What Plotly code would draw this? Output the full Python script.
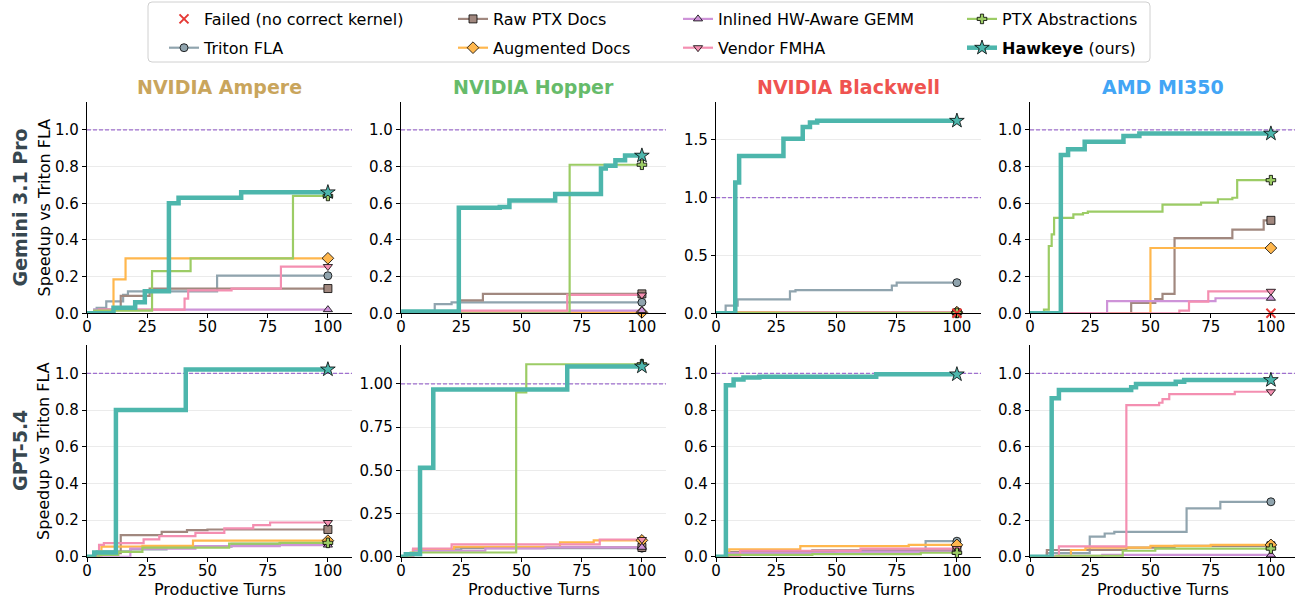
import plotly.graph_objects as go

# ---------------- data: (productive turn, speedup vs Triton FLA) step breakpoints ----------------
# Row 1: Gemini 3.1 Pro
gem_amp_triton = [(0, 0), (3, 0.02), (4, 0.03), (8, 0.065), (15, 0.10), (17, 0.12), (54, 0.205), (100, 0.205)]
gem_amp_raw = [(0, 0), (5, 0.02), (14, 0.095), (26, 0.135), (100, 0.135)]
gem_amp_aug = [(0, 0), (11, 0.185), (16, 0.30), (100, 0.30)]
gem_amp_inl = [(0, 0), (3, 0.02), (100, 0.02)]
gem_amp_ven = [(0, 0), (5, 0.02), (40.5, 0.08), (42, 0.125), (60, 0.135), (80.5, 0.255), (100, 0.255)]
gem_amp_ptx = [(0, 0), (3, 0.015), (27, 0.23), (43, 0.30), (85.5, 0.64), (100, 0.64)]
gem_amp_hawk = [(0, 0), (11, 0.03), (20, 0.06), (24, 0.12), (34, 0.60), (38, 0.63), (64, 0.66), (100, 0.66)]
gem_amp_failed = []

gem_hop_triton = [(0, 0), (1.5, 0.01), (14, 0.05), (21, 0.06), (100, 0.06)]
gem_hop_raw = [(0, 0), (1, 0.005), (24, 0.07), (34, 0.106), (100, 0.106)]
gem_hop_aug = [(0, 0), (2, 0.005), (100, 0.005)]
gem_hop_inl = [(0, 0), (70, 0.015), (100, 0.015)]
gem_hop_ven = [(0, 0), (24, 0.015), (69, 0.10), (100, 0.10)]
gem_hop_ptx = [(0, 0), (70, 0.81), (100, 0.81)]
gem_hop_hawk = [(0, 0), (1, 0.01), (24, 0.575), (41, 0.58), (45, 0.615), (64, 0.65), (83, 0.79),
                (85, 0.805), (89, 0.835), (93, 0.86), (100, 0.86)]
gem_hop_failed = []

gem_bw_triton = [(0, 0), (4, 0.066), (9, 0.12), (30.7, 0.19), (33, 0.20), (73, 0.24), (75, 0.265), (100, 0.265)]
gem_bw_raw = [(0, 0), (2, 0.003), (100, 0.003)]
gem_bw_aug = [(0, 0), (1, 0.01), (100, 0.01)]
gem_bw_inl = None
gem_bw_ven = [(0, 0), (8, 0.005), (27, 0.01), (100, 0.01)]
gem_bw_ptx = [(0, 0), (5, 0.003), (100, 0.003)]
gem_bw_hawk = [(0, 0), (8, 1.13), (9.6, 1.36), (28, 1.51), (36, 1.61), (39, 1.65), (42, 1.665), (100, 1.665)]
gem_bw_failed = ["Inlined HW-Aware GEMM"]

gem_mi_triton = None
gem_mi_raw = [(0, 0), (42, 0.057), (52, 0.077), (55, 0.106), (60, 0.41), (84, 0.456), (97, 0.507), (100, 0.507)]
gem_mi_aug = [(0, 0), (50, 0.356), (100, 0.356)]
gem_mi_inl = [(0, 0), (32, 0.066), (77, 0.082), (100, 0.082)]
gem_mi_ven = [(0, 0), (62, 0.015), (66, 0.064), (74, 0.12), (100, 0.12)]
gem_mi_ptx = [(0, 0), (5.8, 0.02), (7.8, 0.367), (9, 0.43), (10, 0.52), (18, 0.54), (22, 0.547), (24, 0.555),
              (55, 0.593), (71, 0.604), (78, 0.622), (84, 0.63), (86, 0.726), (100, 0.726)]
gem_mi_hawk = [(0, 0), (12.8, 0.863), (15.8, 0.894), (22.7, 0.936), (38.8, 0.967), (45.4, 0.98), (100, 0.98)]
gem_mi_failed = ["Triton FLA"]

# Row 2: GPT-5.4
gpt_amp_triton = [(0, 0), (4, 0.03), (18, 0.04), (33, 0.055), (60, 0.07), (80, 0.075), (100, 0.075)]
gpt_amp_raw = [(0, 0), (4, 0.02), (14, 0.118), (31, 0.136), (41.5, 0.145), (50, 0.149), (100, 0.149)]
gpt_amp_aug = [(0, 0), (6, 0.055), (23, 0.06), (44, 0.088), (100, 0.088)]
gpt_amp_inl = [(0, 0), (18, 0.045), (45, 0.058), (80, 0.064), (100, 0.064)]
gpt_amp_ven = [(0, 0), (5, 0.065), (7, 0.075), (23.5, 0.095), (30, 0.113), (45, 0.131), (57, 0.155),
               (69, 0.173), (76, 0.187), (100, 0.187)]
gpt_amp_ptx = [(0, 0), (5, 0.01), (13, 0.027), (23, 0.05), (59, 0.072), (80, 0.076), (100, 0.076)]
gpt_amp_hawk = [(0, 0), (3, 0.024), (12, 0.80), (41, 1.022), (100, 1.022)]
gpt_amp_failed = []

gpt_hop_triton = [(0, 0), (5, 0.04), (25, 0.05), (100, 0.05)]
gpt_hop_raw = [(0, 0), (5, 0.04), (22, 0.054), (100, 0.054)]
gpt_hop_aug = [(0, 0), (5, 0.043), (22, 0.058), (66, 0.083), (80, 0.095), (100, 0.095)]
gpt_hop_inl = [(0, 0), (5, 0.035), (35, 0.048), (60, 0.055), (100, 0.055)]
gpt_hop_ven = [(0, 0), (5, 0.048), (21, 0.072), (82.5, 0.10), (100, 0.10)]
gpt_hop_ptx = [(0, 0), (4, 0.025), (47.8, 0.95), (52, 1.113), (100, 1.113)]
gpt_hop_hawk = [(0, 0), (2, 0.015), (7.9, 0.515), (13.4, 0.967), (69, 1.10), (100, 1.10)]
gpt_hop_failed = []

gpt_bw_triton = [(0, 0), (5, 0.02), (30, 0.03), (87, 0.085), (100, 0.085)]
gpt_bw_raw = [(0, 0), (5, 0.025), (40, 0.035), (100, 0.035)]
gpt_bw_aug = [(0, 0), (5.5, 0.04), (35, 0.058), (80, 0.065), (100, 0.065)]
gpt_bw_inl = [(0, 0), (5, 0.02), (50, 0.028), (100, 0.028)]
gpt_bw_ven = [(0, 0), (10, 0.033), (60, 0.045), (100, 0.045)]
gpt_bw_ptx = [(0, 0), (5, 0.01), (40, 0.015), (85, 0.022), (100, 0.022)]
gpt_bw_hawk = [(0, 0), (4.1, 0.936), (7.3, 0.967), (11.4, 0.978), (18, 0.982), (66.5, 0.995), (100, 0.995)]
gpt_bw_failed = []

gpt_mi_triton = [(0, 0), (7, 0.02), (24.8, 0.11), (31, 0.127), (35, 0.136), (65, 0.264), (79, 0.30), (100, 0.30)]
gpt_mi_raw = [(0, 0), (7, 0.037), (40, 0.05), (60, 0.06), (100, 0.06)]
gpt_mi_aug = [(0, 0), (17, 0.037), (23, 0.05), (50, 0.06), (75, 0.065), (100, 0.065)]
gpt_mi_inl = [(0, 0), (10, 0.005), (30, 0.01), (100, 0.01)]
gpt_mi_ven = [(0, 0), (12, 0.057), (40, 0.827), (53.6, 0.84), (55, 0.86), (57.8, 0.887), (85, 0.90), (100, 0.90)]
gpt_mi_ptx = [(0, 0), (11, 0.005), (38.5, 0.033), (52, 0.045), (100, 0.045)]
gpt_mi_hawk = [(0, 0), (9, 0.864), (12, 0.91), (42, 0.924), (44, 0.942), (60.5, 0.955), (64, 0.964), (100, 0.964)]
gpt_mi_failed = []

COL_TITLES = ["NVIDIA Ampere", "NVIDIA Hopper", "NVIDIA Blackwell", "AMD MI350"]
COL_COLORS = ["#C9A55C", "#66BB6A", "#EF5350", "#42A5F5"]
ROW_TITLES = ["Gemini 3.1 Pro", "GPT-5.4"]
SERIES = ["Triton FLA", "Raw PTX Docs", "Augmented Docs", "Inlined HW-Aware GEMM",
          "Vendor FMHA", "PTX Abstractions", "Hawkeye"]
X_TICKS = [0, 25, 50, 75, 100]

# ---------------- styles ----------------
STYLE = {
    "Triton FLA": dict(color="#90A4AE", symbol="circle", size=8, width=2.2),
    "Raw PTX Docs": dict(color="#A1887F", symbol="square", size=8, width=2.2),
    "Augmented Docs": dict(color="#FFB74D", symbol="diamond", size=9, width=2.2),
    "Inlined HW-Aware GEMM": dict(color="#CE93D8", symbol="triangle-up", size=8, width=2.2),
    "Vendor FMHA": dict(color="#F48FB1", symbol="triangle-down", size=8, width=2.2),
    "PTX Abstractions": dict(color="#9CCC65", symbol="cross", size=8, width=2.2),
    "Hawkeye": dict(color="#4DB6AC", symbol="star", size=11, width=4.5),
}
FAILED_COLOR = "#E53935"
FONT = "DejaVu Sans"
W, H = 1303, 603

panels = [
    [dict(zip(SERIES, [gem_amp_triton, gem_amp_raw, gem_amp_aug, gem_amp_inl, gem_amp_ven, gem_amp_ptx, gem_amp_hawk])),
     dict(zip(SERIES, [gem_hop_triton, gem_hop_raw, gem_hop_aug, gem_hop_inl, gem_hop_ven, gem_hop_ptx, gem_hop_hawk])),
     dict(zip(SERIES, [gem_bw_triton, gem_bw_raw, gem_bw_aug, gem_bw_inl, gem_bw_ven, gem_bw_ptx, gem_bw_hawk])),
     dict(zip(SERIES, [gem_mi_triton, gem_mi_raw, gem_mi_aug, gem_mi_inl, gem_mi_ven, gem_mi_ptx, gem_mi_hawk]))],
    [dict(zip(SERIES, [gpt_amp_triton, gpt_amp_raw, gpt_amp_aug, gpt_amp_inl, gpt_amp_ven, gpt_amp_ptx, gpt_amp_hawk])),
     dict(zip(SERIES, [gpt_hop_triton, gpt_hop_raw, gpt_hop_aug, gpt_hop_inl, gpt_hop_ven, gpt_hop_ptx, gpt_hop_hawk])),
     dict(zip(SERIES, [gpt_bw_triton, gpt_bw_raw, gpt_bw_aug, gpt_bw_inl, gpt_bw_ven, gpt_bw_ptx, gpt_bw_hawk])),
     dict(zip(SERIES, [gpt_mi_triton, gpt_mi_raw, gpt_mi_aug, gpt_mi_inl, gpt_mi_ven, gpt_mi_ptx, gpt_mi_hawk]))],
]
failed = [[gem_amp_failed, gem_hop_failed, gem_bw_failed, gem_mi_failed],
          [gpt_amp_failed, gpt_hop_failed, gpt_bw_failed, gpt_mi_failed]]

# ---------------- layout geometry (pixels) ----------------
COL_LEFT = [87, 401, 716, 1030]
AX_W = 265
ROW_TOP = [101.5, 345.0]
AX_H = 211.8

fig = go.Figure()
layout = dict(width=W, height=H, margin=dict(l=0, r=0, t=0, b=0, pad=0, autoexpand=False),
              paper_bgcolor="white", plot_bgcolor="white",
              font=dict(family=FONT, size=15, color="black"))
annotations = []
shapes = []

for r in range(2):
    for c in range(4):
        idx = r * 4 + c + 1
        xa = "x" if idx == 1 else f"x{idx}"
        ya = "y" if idx == 1 else f"y{idx}"
        data = panels[r][c]
        vmax = max(max(v for _, v in pts) for pts in data.values() if pts)
        ytop = max(1.155, vmax * 1.1)
        if ytop > 1.5:
            dtick, fmt = 0.5, ".1f"
        elif ytop > 1.2:
            dtick, fmt = 0.25, ".2f"
        else:
            dtick, fmt = 0.2, ".1f"
        x0 = COL_LEFT[c] / W
        x1 = (COL_LEFT[c] + AX_W) / W
        y1 = 1 - ROW_TOP[r] / H
        y0 = 1 - (ROW_TOP[r] + AX_H) / H
        layout[f"xaxis{'' if idx == 1 else idx}"] = dict(
            domain=[x0, x1], anchor=ya, range=[0, 110], tickvals=X_TICKS, automargin=False,
            showgrid=False, zeroline=False, showline=True, linecolor="black", linewidth=1.2,
            ticks="outside", ticklen=4, tickwidth=1, tickcolor="black", ticklabelstandoff=-4,
            tickfont=dict(size=15, family=FONT, color="black"), fixedrange=True)
        layout[f"yaxis{'' if idx == 1 else idx}"] = dict(
            domain=[y0, y1], anchor=xa, range=[0, ytop], dtick=dtick, tick0=0, tickformat=fmt,
            automargin=False,
            showgrid=True, gridcolor="#EBEBEB", gridwidth=1, zeroline=False,
            showline=True, linecolor="black", linewidth=1.2,
            ticks="outside", ticklen=4, tickwidth=1, tickcolor="black",
            tickfont=dict(size=15, family=FONT, color="black"), fixedrange=True)

        # reference line at speedup = 1.0
        fig.add_trace(go.Scatter(x=[0, 110], y=[1, 1], mode="lines", xaxis=xa, yaxis=ya,
                                 line=dict(color="#A070D0", width=1.2, dash="4px,2px"),
                                 showlegend=False, hoverinfo="skip"))
        # step lines
        for s in SERIES:
            pts = data[s]
            if not pts:
                continue
            st = STYLE[s]
            fig.add_trace(go.Scatter(x=[p[0] for p in pts], y=[p[1] for p in pts], mode="lines",
                                     line=dict(color=st["color"], width=st["width"], shape="hv"),
                                     xaxis=xa, yaxis=ya, showlegend=False, name=s))
        # end markers
        for s in SERIES:
            pts = data[s]
            if not pts:
                continue
            st = STYLE[s]
            fig.add_trace(go.Scatter(x=[pts[-1][0]], y=[pts[-1][1]], mode="markers",
                                     marker=dict(symbol=st["symbol"], size=st["size"], color=st["color"],
                                                 line=dict(color="black", width=0.8)),
                                     xaxis=xa, yaxis=ya, showlegend=False, name=s, cliponaxis=False))
        for s in failed[r][c]:
            fig.add_trace(go.Scatter(x=[100], y=[0], mode="markers",
                                     marker=dict(symbol="x-thin-open", size=9, color=FAILED_COLOR,
                                                 line=dict(color=FAILED_COLOR, width=2)),
                                     xaxis=xa, yaxis=ya, showlegend=False, cliponaxis=False,
                                     name=f"{s} (failed)"))

        # column titles
        if r == 0:
            annotations.append(dict(text=f"<b>{COL_TITLES[c]}</b>", x=(COL_LEFT[c] + AX_W / 2) / W,
                                    y=1 - 87 / H, xref="paper", yref="paper", showarrow=False,
                                    xanchor="center", yanchor="middle",
                                    font=dict(size=19, family=FONT, color=COL_COLORS[c])))
        if r == 1:
            annotations.append(dict(text="Productive Turns", x=(COL_LEFT[c] + AX_W / 2) / W,
                                    y=1 - 589 / H, xref="paper", yref="paper", showarrow=False,
                                    xanchor="center", yanchor="middle",
                                    font=dict(size=16, family=FONT, color="black")))
    yc = 1 - (ROW_TOP[r] + AX_H / 2) / H
    annotations.append(dict(text=f"<b>{ROW_TITLES[r]}</b>", x=20 / W, y=yc, xref="paper", yref="paper",
                            showarrow=False, textangle=-90, xanchor="center", yanchor="middle",
                            font=dict(size=19, family=FONT, color="#37474F")))
    annotations.append(dict(text="Speedup vs Triton FLA", x=44 / W, y=yc, xref="paper", yref="paper",
                            showarrow=False, textangle=-90, xanchor="center", yanchor="middle",
                            font=dict(size=16, family=FONT, color="black")))

# ---------------- legend (4 columns, 2 rows) ----------------
LEGEND_COLS = [["Failed", "Triton FLA"], ["Raw PTX Docs", "Augmented Docs"],
               ["Inlined HW-Aware GEMM", "Vendor FMHA"], ["PTX Abstractions", "Hawkeye"]]
LEGEND_TEXT_X = [206, 495, 720, 1004]
for k, col in enumerate(LEGEND_COLS):
    lg = "legend" if k == 0 else f"legend{k + 1}"
    for name in col:
        if name == "Failed":
            fig.add_trace(go.Scatter(x=[None], y=[None], mode="markers", name="Failed (no correct kernel)",
                                     marker=dict(symbol="x-thin-open", size=9, color=FAILED_COLOR,
                                                 line=dict(color=FAILED_COLOR, width=2)),
                                     legend=lg, legendgroup=name, showlegend=True))
        else:
            st = STYLE[name]
            label = "<b>Hawkeye</b> (ours)" if name == "Hawkeye" else name
            fig.add_trace(go.Scatter(x=[None], y=[None], mode="lines+markers", name=label,
                                     line=dict(color=st["color"], width=st["width"]),
                                     marker=dict(symbol=st["symbol"], size=st["size"], color=st["color"],
                                                 line=dict(color="black", width=0.8)),
                                     legend=lg, legendgroup=name, showlegend=True))
    layout[lg] = dict(x=(LEGEND_TEXT_X[k] - 42) / W, y=1 - 2 / H, xanchor="left", yanchor="top",
                      xref="container", yref="container",
                      orientation="v", bgcolor="rgba(0,0,0,0)", borderwidth=0,
                      font=dict(size=16, family=FONT, color="black"), tracegroupgap=5,
                      itemclick=False, itemdoubleclick=False)

# legend frame (rounded rectangle)
lx0, lx1, ly0, ly1, rad = 148, 1150, 2, 62, 4
def px(x):
    return x / W
def py(y):
    return 1 - y / H
path = (f"M{px(lx0 + rad)},{py(ly0)} L{px(lx1 - rad)},{py(ly0)} Q{px(lx1)},{py(ly0)} {px(lx1)},{py(ly0 + rad)} "
        f"L{px(lx1)},{py(ly1 - rad)} Q{px(lx1)},{py(ly1)} {px(lx1 - rad)},{py(ly1)} "
        f"L{px(lx0 + rad)},{py(ly1)} Q{px(lx0)},{py(ly1)} {px(lx0)},{py(ly1 - rad)} "
        f"L{px(lx0)},{py(ly0 + rad)} Q{px(lx0)},{py(ly0)} {px(lx0 + rad)},{py(ly0)} Z")
shapes.append(dict(type="path", xref="paper", yref="paper", path=path,
                   line=dict(color="#D0D0D0", width=1), fillcolor="rgba(255,255,255,0)", layer="below"))

layout["annotations"] = annotations
layout["shapes"] = shapes
layout["showlegend"] = True
fig.update_layout(**layout)
fig.write_html("out.html")
